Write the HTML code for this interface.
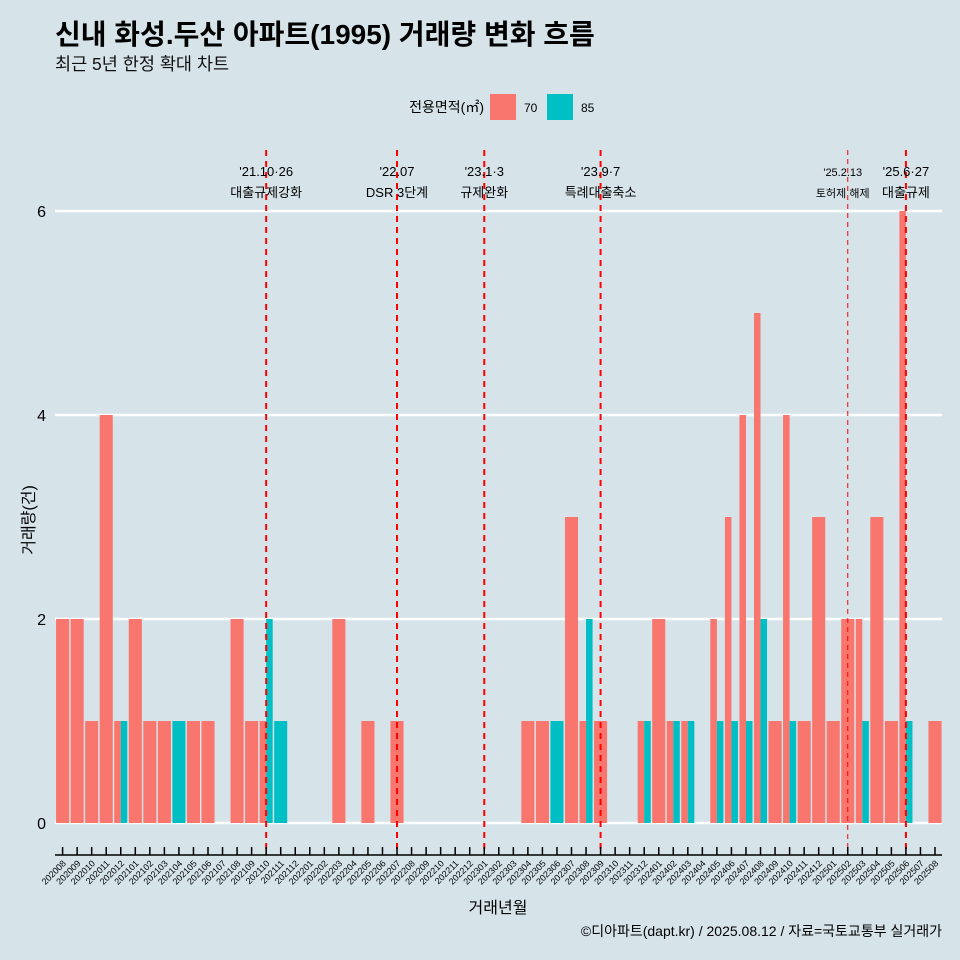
<!DOCTYPE html>
<html><head><meta charset="utf-8"><style>
body{margin:0;background:#d6e4ea;}
svg{display:block;font-family:"Liberation Sans","Noto Sans CJK KR",sans-serif;}
</style></head><body>
<svg id="c" width="960" height="960" xmlns="http://www.w3.org/2000/svg">
<rect width="960" height="960" fill="#d6e4ea"/>
<text x="55" y="44" font-size="28" font-weight="bold" fill="#000">신내 화성.두산 아파트(1995) 거래량 변화 흐름</text>
<text x="55" y="70" font-size="17.5" fill="#111">최근 5년 한정 확대 차트</text>
<g>
<text x="484" y="112" font-size="14" text-anchor="end">전용면적(㎡)</text>
<rect x="490" y="94" width="26" height="26" fill="#f8766d"/>
<text x="524" y="112" font-size="12">70</text>
<rect x="547" y="94" width="26" height="26" fill="#00bfc4"/>
<text x="581" y="112" font-size="12">85</text>
</g>
<g id="grid"></g><g id="bars"></g><g id="events"></g><g id="axes"></g>
<text transform="translate(34,520) rotate(-90)" font-size="16" text-anchor="middle">거래량(건)</text>
<text x="498" y="913" font-size="16" text-anchor="middle">거래년월</text>
<text x="942" y="936" font-size="14" text-anchor="end">©디아파트(dapt.kr) / 2025.08.12 / 자료=국토교통부 실거래가</text>
</svg>
<script>
const months=[];
for(let y=2020,m=8;!(y===2025&&m===9);){months.push(y+String(m).padStart(2,'0'));m++;if(m>12){m=1;y++;}}
const s70={"202008":2,"202009":2,"202010":1,"202011":4,"202012":1,"202101":2,"202102":1,"202103":1,"202105":1,"202106":1,"202108":2,"202109":1,"202110":1,"202203":2,"202205":1,"202207":1,"202304":1,"202305":1,"202307":3,"202308":1,"202309":1,"202312":1,"202401":2,"202402":1,"202403":1,"202405":2,"202406":3,"202407":4,"202408":5,"202409":1,"202410":4,"202411":1,"202412":3,"202501":1,"202502":2,"202503":2,"202504":3,"202505":1,"202506":6,"202508":1};
const s85={"202012":1,"202104":1,"202110":2,"202111":1,"202306":1,"202308":2,"202312":1,"202402":1,"202403":1,"202405":1,"202406":1,"202407":1,"202408":2,"202410":1,"202503":1,"202506":1};
const yTicks=[0,2,4,6];
const evMonths=["202110","202207","202301","202309","202502","202506"];
const evLine1=["'21.10·26","'22.07","'23.1·3","'23.9·7","'25.2.13","'25.6·27"];
const evLine2=["대출규제강화","DSR 3단계","규제완화","특례대출축소","토허제 해제","대출규제"];
const NS="http://www.w3.org/2000/svg";
const X0=62.6,DX=(935-62.6)/60,Y0=823,KY=102;
const xs=i=>X0+i*DX, ys=v=>Y0-v*KY;
function mk(p,t,a){const e=document.createElementNS(NS,t);for(const k in a)e.setAttribute(k,a[k]);document.getElementById(p).appendChild(e);return e;}
yTicks.forEach(v=>{
 let l=mk('grid','line',{x1:55,x2:942,y1:ys(v),y2:ys(v),stroke:'#fff','stroke-width':2.5});
 
 
 let t=mk('grid','text',{x:46,y:ys(v)+6,'font-size':16,'text-anchor':'end'});t.textContent=v;
 
 
});
const BW=DX*0.9;
months.forEach((m,i)=>{
 const a=s70[m]||0,b=s85[m]||0,cx=xs(i);
 if(a&&b){
  let r=mk('bars','rect',{x:cx-BW/2,y:ys(a),width:BW/2,height:a*KY,fill:'#f8766d'});
  
  
  let r2=mk('bars','rect',{x:cx,y:ys(b),width:BW/2,height:b*KY,fill:'#00bfc4'});
  
  
 }else if(a||b){
  const v=a||b;
  let r=mk('bars','rect',{x:cx-BW/2,y:ys(v),width:BW,height:v*KY,fill:a?'#f8766d':'#00bfc4'});
  
  
 }
 let tk=mk('axes','line',{x1:cx,x2:cx,y1:847,y2:855,stroke:'#000','stroke-width':1.5});
 
 
 let t=mk('axes','text',{transform:`translate(${cx+4},864) rotate(-45)`,'font-size':9,'text-anchor':'end'});t.textContent=m;
 
 
});
let ax=mk('axes','line',{x1:55,x2:942,y1:855,y2:855,stroke:'#000','stroke-width':1.5});


evMonths.forEach((m,k)=>{
 const x=xs(months.indexOf(m)),thin=m==="202502";
 let l=mk('events','line',{x1:x,x2:x,y1:150,y2:855,stroke:'#ff0000','stroke-width':thin?1:2,'stroke-dasharray':thin?'5,4':'6,5'});
 
 
 const fs=thin?11:13,xo=thin?-5:0;
 let t1=mk('events','text',{x:x+xo,y:176,'font-size':fs,'text-anchor':'middle'});t1.textContent=evLine1[k];
 
 
 let t2=mk('events','text',{x:x+xo,y:197,'font-size':fs,'text-anchor':'middle'});t2.textContent=evLine2[k];
 
 
});
</script>
</body></html>
